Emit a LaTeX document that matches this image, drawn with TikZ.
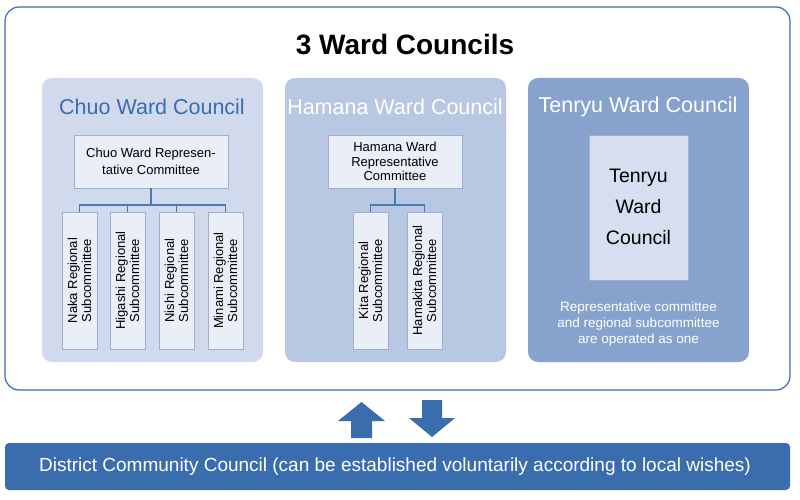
\documentclass[tikz,border=0pt]{standalone}
\usepackage{fontspec}
\setmainfont{Liberation Sans}
\definecolor{dblue}{HTML}{3A6DAD}
\definecolor{pA}{HTML}{D0DAEC}
\definecolor{pB}{HTML}{B8C8E2}
\definecolor{pC}{HTML}{87A3CD}
\definecolor{boxf}{HTML}{E9EEF7}
\definecolor{boxt}{HTML}{D6DEF0}
\definecolor{boxd}{HTML}{9DB0CF}
\definecolor{lineb}{HTML}{4A7AB5}
\begin{document}
\begin{tikzpicture}[x=1pt,y=-1pt,
 panel/.style={rounded corners=10pt},
 wbox/.style={draw=boxd,fill=boxf,line width=0.6pt},
 sub/.style={font=\fontsize{13}{14}\selectfont,align=center,rotate=90,text=black},
 conn/.style={draw=lineb,line width=1.2pt}]
\useasboundingbox (0,0) rectangle (800,500);
\fill[white] (0,0) rectangle (800,500);
\draw[dblue,line width=1.2pt,fill=white,rounded corners=14pt] (5,7) rectangle (790,390);
\node[font=\bfseries\fontsize{28}{32}\selectfont] (title) at (405,45) {3 Ward Councils};
% panels
\fill[pA,panel] (42,78) rectangle (263,362);
\fill[pB,panel] (285,78) rectangle (506,362);
\fill[pC,panel] (528,78) rectangle (749,362);
\node[text=dblue,font=\fontsize{21.5}{24}\selectfont] (tA) at (152,107) {Chuo Ward Council};
\node[text=white,font=\fontsize{21.5}{24}\selectfont] (tB) at (395,107) {Hamana Ward Council};
\node[text=white,font=\fontsize{21.5}{24}\selectfont] (tC) at (638,107) {Tenryu Ward Council};
% Chuo
\draw[wbox] (74,135) rectangle (228,188);
\node[font=\fontsize{13}{16.5}\selectfont,align=center] (repA) at (151,161.5) {Chuo Ward Represen-\\tative Committee};
\foreach \x/\t [count=\i] in {62/Naka,110/Higashi,159/Nishi,208/Minami}{
  \draw[wbox] (\x,212) rectangle (\x+35,349);
  \coordinate (a\i) at (\x+17.5,212);
  \node[sub] (sa\i) at (\x+17.5,280.5) {\t\ Regional\\Subcommittee};
}
\draw[conn] (151,188) -- (151,205);
\draw[conn] (a1) |- (151,205) -| (a4);
\draw[conn] (a2) -- (127.5,205);
\draw[conn] (a3) -- (176.5,205);
% Hamana
\draw[wbox] (328,135) rectangle (462,188);
\node[font=\fontsize{13}{14.5}\selectfont,align=center] (repB) at (395,161.5) {Hamana Ward\\Representative\\Committee};
\foreach \x/\t [count=\i] in {353/Kita,407/Hamakita}{
  \draw[wbox] (\x,212) rectangle (\x+35,349);
  \coordinate (b\i) at (\x+17.5,212);
  \node[sub] (sb\i) at (\x+17.5,280.5) {\t\ Regional\\Subcommittee};
}
\draw[conn] (395,188) -- (395,205);
\draw[conn] (b1) |- (395,205) -| (b2);
% Tenryu
\draw[wbox,fill=boxt] (589,135) rectangle (688,280);
\node[font=\fontsize{19.5}{31}\selectfont,align=center] (inC) at (638.5,207) {Tenryu\\Ward\\Council};
\node[text=white,font=\fontsize{13.5}{16}\selectfont,align=center] (noteC) at (638.5,324) {Representative committee\\and regional subcommittee\\are operated as one};
% arrows
\fill[dblue] (361.5,402) -- (385,421) -- (372,421) -- (372,438) -- (351,438) -- (351,421) -- (338,421) -- cycle;
\fill[dblue] (432,437) -- (455,418) -- (442,418) -- (442,400) -- (422,400) -- (422,418) -- (409,418) -- cycle;
% bottom bar
\fill[dblue,rounded corners=4pt] (5,443) rectangle (790,490);
\node[text=white,font=\fontsize{19}{22}\selectfont] (dcc) at (395,467) {District Community Council (can be established voluntarily according to local wishes)};
\end{tikzpicture}
\end{document}
